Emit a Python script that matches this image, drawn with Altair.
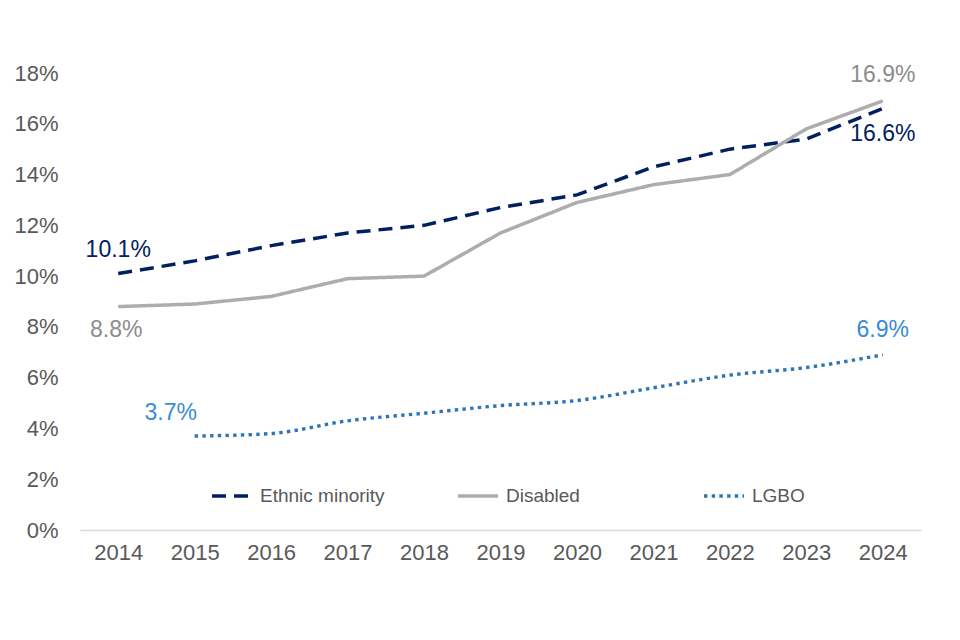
import altair as alt
import pandas as pd

years = [2014, 2015, 2016, 2017, 2018, 2019, 2020, 2021, 2022, 2023, 2024]
ethnic = [10.1, 10.6, 11.2, 11.7, 12.0, 12.7, 13.2, 14.3, 15.0, 15.4, 16.6]
disabled = [8.8, 8.9, 9.2, 9.9, 10.0, 11.7, 12.9, 13.6, 14.0, 15.8, 16.9]
lgbo = [None, 3.7, 3.8, 4.3, 4.6, 4.9, 5.1, 5.6, 6.1, 6.4, 6.9]
series_names = ["Ethnic minority", "Disabled", "LGBO"]
line_colors = ["#002060", "#ADADAD", "#2E75B6"]
label_colors = ["#002060", "#8C8C8C", "#3A8AD9"]

rows = []
for name, vals in zip(series_names, [ethnic, disabled, lgbo]):
    for yr, v in zip(years, vals):
        if v is not None:
            rows.append({"year": str(yr), "series": name, "value": v / 100,
                         "label": f"{v:.1f}%"})
df = pd.DataFrame(rows)

FONT = "Liberation Sans"

x = alt.X("year:O", title=None,
          scale=alt.Scale(type="point", padding=0.5),
          axis=alt.Axis(labelAngle=0, labelFontSize=22, labelColor="#595959",
                        labelFont=FONT, ticks=False, domainColor="#D9D9D9",
                        domainWidth=1.5, labelPadding=12, grid=False))
y = alt.Y("value:Q", title=None,
          scale=alt.Scale(domain=[0, 0.18]),
          axis=alt.Axis(format=".0%", values=[i / 100 for i in range(0, 19, 2)],
                        labelFontSize=22, labelColor="#595959", labelFont=FONT,
                        ticks=False, domain=False, grid=False, labelPadding=22))

color = alt.Color("series:N",
                  scale=alt.Scale(domain=series_names, range=line_colors),
                  legend=alt.Legend(title=None, orient="none", legendX=130, legendY=401,
                                    direction="horizontal", symbolType="stroke",
                                    symbolSize=1600, symbolStrokeWidth=3.5,
                                    labelFontSize=19, labelColor="#595959",
                                    labelFont=FONT, labelOffset=6,
                                    gridAlign="all", columnPadding=66,
                                    labelLimit=300))
dash = alt.StrokeDash("series:N",
                      scale=alt.Scale(domain=series_names,
                                      range=[[14, 8], [1, 0], [3.4, 4.3]]),
                      legend=None)

base = alt.Chart(df)

straight = base.transform_filter(alt.datum.series != "LGBO").mark_line(
    strokeWidth=3.5).encode(x=x, y=y, color=color, strokeDash=dash, detail="series:N")
smooth = base.transform_filter(alt.datum.series == "LGBO").mark_line(
    strokeWidth=3.4, interpolate="monotone").encode(x=x, y=y, color=color, strokeDash=dash)


def lab(series, year, dx, dy, col):
    return base.transform_filter(
        (alt.datum.series == series) & (alt.datum.year == str(year))
    ).mark_text(fontSize=23, font=FONT, color=col, dx=dx, dy=dy).encode(
        x=x, y=y, text="label:N")


labels = [
    lab("Ethnic minority", 2014, 0, -24, label_colors[0]),
    lab("Disabled", 2014, -2, 23, label_colors[1]),
    lab("LGBO", 2015, -24, -23, label_colors[2]),
    lab("Disabled", 2024, 0, -26, label_colors[1]),
    lab("Ethnic minority", 2024, 0, 25, label_colors[0]),
    lab("LGBO", 2024, 0, -25, label_colors[2]),
]

chart = alt.layer(straight, smooth, *labels).properties(
    width=841, height=457,
    autosize=alt.AutoSizeParams(type="none"),
    padding={"left": 72, "top": 65, "right": 30, "bottom": 80},
    background="white",
).configure_view(stroke=None, strokeWidth=0)

chart.save("out.html", embed_options={"renderer": "svg", "actions": False})
